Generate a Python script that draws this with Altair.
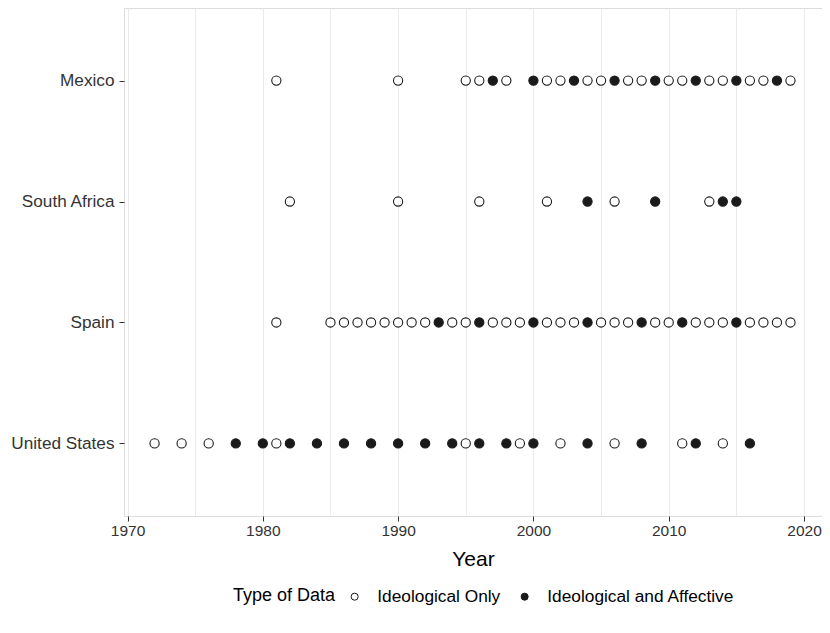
import altair as alt
import pandas as pd

countries = ["Mexico", "South Africa", "Spain", "United States"]

mexico_years = [1981, 1990, 1995, 1996, 1997, 1998, 2000, 2001, 2002, 2003, 2004, 2005, 2006,
                2007, 2008, 2009, 2010, 2011, 2012, 2013, 2014, 2015, 2016, 2017, 2018, 2019]
mexico_affective = [1997, 2000, 2003, 2006, 2009, 2012, 2015, 2018]

safrica_years = [1982, 1990, 1996, 2001, 2004, 2006, 2009, 2013, 2014, 2015]
safrica_affective = [2004, 2009, 2014, 2015]

spain_years = [1981, 1985, 1986, 1987, 1988, 1989, 1990, 1991, 1992, 1993, 1994, 1995, 1996,
               1997, 1998, 1999, 2000, 2001, 2002, 2003, 2004, 2005, 2006, 2007, 2008, 2009,
               2010, 2011, 2012, 2013, 2014, 2015, 2016, 2017, 2018, 2019]
spain_affective = [1993, 1996, 2000, 2004, 2008, 2011, 2015]

us_years = [1972, 1974, 1976, 1978, 1980, 1981, 1982, 1984, 1986, 1988, 1990, 1992, 1994,
            1995, 1996, 1998, 1999, 2000, 2002, 2004, 2006, 2008, 2011, 2012, 2014, 2016]
us_affective = [1978, 1980, 1982, 1984, 1986, 1988, 1990, 1992, 1994, 1996, 1998, 2000,
                2004, 2008, 2012, 2016]

type_labels = ["Ideological Only", "Ideological and Affective"]
x_ticks = [1970, 1975, 1980, 1985, 1990, 1995, 2000, 2005, 2010, 2015, 2020]

rows = []
for country, years, aff in [("Mexico", mexico_years, mexico_affective),
                            ("South Africa", safrica_years, safrica_affective),
                            ("Spain", spain_years, spain_affective),
                            ("United States", us_years, us_affective)]:
    for y in years:
        rows.append({"Country": country, "Year": y,
                     "Type": type_labels[1] if y in aff else type_labels[0]})
df = pd.DataFrame(rows)

FONT = "Liberation Sans"

chart = alt.Chart(df).mark_point(shape="circle", size=85, strokeWidth=1.1, opacity=1).encode(
    x=alt.X("Year:Q",
            scale=alt.Scale(domain=[1969.74, 2021.33], nice=False, zero=False),
            axis=alt.Axis(values=x_ticks, format="d",
                          labelExpr="datum.value % 10 === 0 ? datum.label : ''",
                          tickOpacity={"condition": {"test": "datum.value % 10 !== 0", "value": 0}, "value": 1},
                          title="Year", titleFontSize=21, titleFontWeight="normal",
                          titleColor="#000000", titlePadding=10,
                          labelFontSize=15.5, labelColor="#333333", labelPadding=2,
                          tickSize=5, tickColor="#333333",
                          domain=False, gridColor="#EBEBEB", gridWidth=1)),
    y=alt.Y("Country:N", sort=countries,
            scale=alt.Scale(type="point", padding=0.6),
            axis=alt.Axis(title=None, labelFontSize=17.2, labelColor="#333333",
                          labelPadding=5, tickSize=5, tickColor="#333333",
                          domain=False, gridColor="#EBEBEB", gridWidth=1)),
    stroke=alt.Stroke("Type:N",
                      scale=alt.Scale(domain=type_labels, range=["#1a1a1a", "#1a1a1a"]),
                      legend=None),
    fill=alt.Fill("Type:N",
                  scale=alt.Scale(domain=type_labels, range=["#ffffff", "#1a1a1a"]),
                  legend=alt.Legend(title="Type of Data", orient="none",
                                    direction="horizontal", titleOrient="left",
                                    legendX=109, legendY=580,
                                    titleFontSize=18, titleFontWeight="normal",
                                    titleColor="#000000", titlePadding=10,
                                    labelFontSize=17.3, labelColor="#000000", labelLimit=0,
                                    symbolType="circle", symbolSize=50,
                                    symbolStrokeColor="#1a1a1a", symbolStrokeWidth=1,
                                    columnPadding=15, labelOffset=14)),
).properties(
    width=698, height=508,
    autosize=alt.AutoSizeParams(type="none"),
    padding={"left": 116, "top": 0, "right": 0, "bottom": 109},
).configure_view(
    stroke="#333333", strokeWidth=1
).configure(
    font=FONT, background="white"
)

chart.save("out.html", embed_options={"renderer": "svg", "actions": False})
